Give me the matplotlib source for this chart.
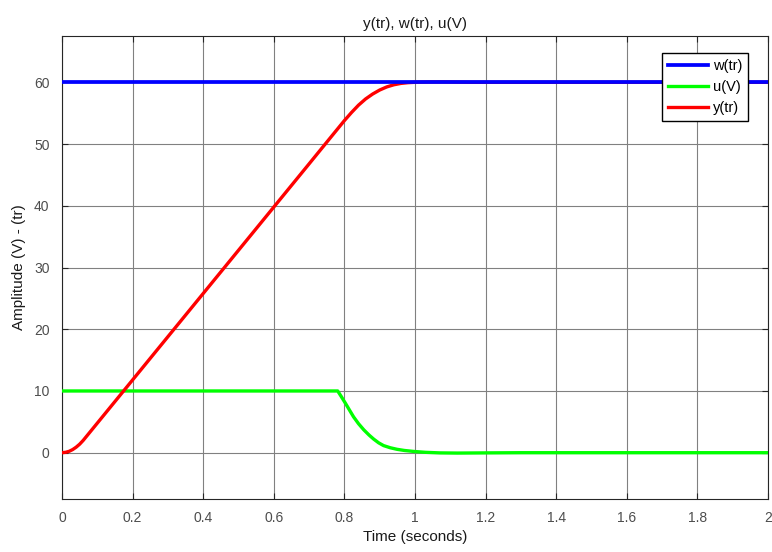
import matplotlib
matplotlib.use("Agg")
import matplotlib.pyplot as plt

plt.rcParams['font.family'] = ['Liberation Sans', 'DejaVu Sans']

# reference w(tr)
t_w = [0.0, 2.0]
w_vals = [60.0, 60.0]

# control u(V)
t_u = [0.0, 0.5, 0.781, 0.79, 0.803, 0.815, 0.826, 0.84, 0.855, 0.87, 0.883, 0.897, 0.911, 0.93,
       0.949, 0.97, 0.997, 1.03, 1.07, 1.12, 1.2, 1.3, 2.0]
u_vals = [10.0, 10.0, 10.0, 9.2, 8.0, 6.85, 5.8, 4.7, 3.7, 2.85, 2.2, 1.6, 1.15, 0.8,
          0.55, 0.36, 0.2, 0.06, -0.03, -0.06, -0.03, 0.0, 0.0]

# output y(tr)
t_y = [0.0, 0.01, 0.02, 0.03, 0.04, 0.05, 0.06, 0.07, 0.08, 0.1, 0.2, 0.3, 0.4, 0.5, 0.6, 0.7,
       0.76, 0.78, 0.8, 0.82, 0.84, 0.86, 0.88, 0.9, 0.92, 0.94, 0.96, 0.98, 1.0, 1.04, 1.08,
       1.12, 1.16, 2.0]
y_vals = [0.0, 0.06, 0.22, 0.5, 0.89, 1.38, 1.99, 2.69, 3.39, 4.79, 11.79, 18.79, 25.79, 32.79,
          39.79, 46.79, 51.0, 52.4, 53.8, 55.1, 56.3, 57.3, 58.1, 58.75, 59.25, 59.6, 59.82,
          59.94, 60.0, 60.05, 60.06, 60.03, 60.0, 60.0]

x_ticks = [0, 0.2, 0.4, 0.6, 0.8, 1.0, 1.2, 1.4, 1.6, 1.8, 2.0]
x_labels = ['0', '0.2', '0.4', '0.6', '0.8', '1', '1.2', '1.4', '1.6', '1.8', '2']
y_ticks = [0, 10, 20, 30, 40, 50, 60]

fig = plt.figure(figsize=(7.72, 5.52), dpi=100)
ax = fig.add_axes([62/772, 1-499/552, (768-62)/772, (499-36)/552])

lw = 2.4
l_y, = ax.plot(t_y, y_vals, color='#ff0000', lw=lw, zorder=4, label='y(tr)',
               solid_joinstyle='round')
l_u, = ax.plot(t_u, u_vals, color='#00ff00', lw=lw, zorder=3, label='u(V)',
               solid_joinstyle='round')
l_w, = ax.plot(t_w, w_vals, color='#0000ff', lw=2.7, zorder=5, label='w(tr)')

ax.set_xlim(0, 2)
ax.set_ylim(-7.5, 67.5)
ax.set_xticks(x_ticks)
ax.set_xticklabels(x_labels)
ax.set_yticks(y_ticks)
ax.grid(True, color='#808080', lw=0.8)
ax.set_axisbelow(True)
ax.tick_params(direction='in', top=True, right=True, labelsize=10,
               colors='#262626', labelcolor='#4d4d4d', length=4, pad=9)
for s in ax.spines.values():
    s.set_color('#262626')
    s.set_linewidth(0.8)

ax.set_title('y(tr), w(tr), u(V)', fontsize=11, color='#1a1a1a', pad=6)
ax.set_xlabel('Time (seconds)', fontsize=11, color='#1a1a1a', labelpad=3)
ax.set_ylabel('Amplitude (V) - (tr)', fontsize=11, color='#1a1a1a', labelpad=6)

leg = ax.legend(handles=[l_w, l_u, l_y], loc='upper right',
                bbox_to_anchor=(1 - (768-748)/706, 1 - (53-36)/463),
                fontsize=10.5, frameon=True, fancybox=False, handlelength=2.8, handletextpad=0.3,
                borderpad=0.4, labelspacing=0.5, borderaxespad=0)
leg.get_frame().set_edgecolor('#000000')
leg.get_frame().set_linewidth(1.0)
leg.get_frame().set_alpha(1)

fig.savefig('out.png', dpi=100)
